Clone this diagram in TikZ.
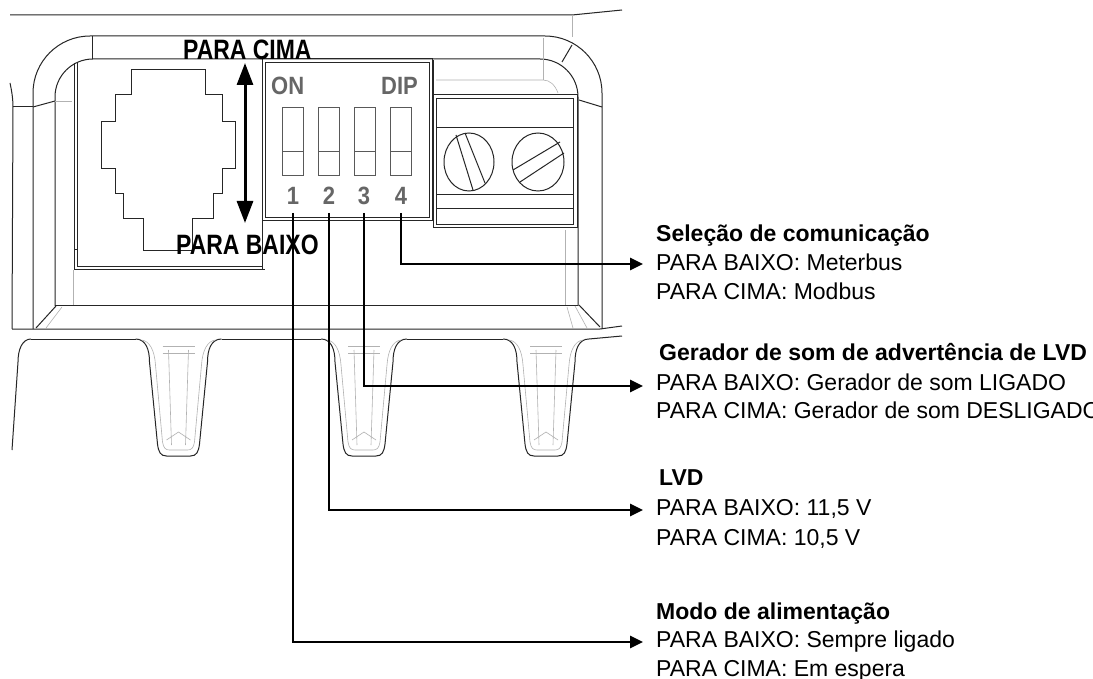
\documentclass[tikz,border=0pt]{standalone}
\usepackage{fontspec}
\setmainfont{Liberation Sans}
\newfontfamily\narrowsans[FakeStretch=0.82]{Liberation Sans}
\newfontfamily\dipsans[FakeStretch=0.88]{Liberation Sans}
\usetikzlibrary{arrows.meta}
\begin{document}
\begin{tikzpicture}[x=1pt,y=-1pt,
  hw/.style={draw=black!85, line width=1pt},
  hwg/.style={draw=black!30, line width=0.6pt},
  slot/.style={draw=black!65, line width=1pt},
  lead/.style={draw=black, line width=2.6pt, line join=miter, -{Triangle[length=13pt,width=12pt]}},
  updown/.style={draw=black, line width=3pt, {Triangle[length=22pt,width=16pt]}-{Triangle[length=22pt,width=16pt]}},
  lbl/.style={anchor=base west, inner sep=0pt, font=\fontsize{23}{27}\selectfont},
  hdr/.style={anchor=base west, inner sep=0pt, font=\fontsize{23}{27}\selectfont\bfseries},
  dirlbl/.style={anchor=base west, inner sep=0pt, font=\narrowsans\bfseries\fontsize{28}{32}\selectfont},
  diplbl/.style={inner sep=0pt, text=black!60, font=\dipsans\bfseries\fontsize{25}{28}\selectfont}
]
\clip (0,0) rectangle (1093,679);
\fill[white] (0,0) rectangle (1093,679);

% ---------- housing frame ----------
\draw[hw] (10,15) -- (572,15) -- (622,10);
\draw[hwg] (572,15) -- (572,37);
\draw[hw, rounded corners=57pt] (33,329) -- (33,36) -- (602,36) -- (602,329);
\draw[hw, rounded corners=38pt] (55,306) -- (55,59) -- (578,59) -- (578,306);
\draw[hw] (55,306) -- (578,306);
% bevels
\draw[hw] (92,36) -- (92,59);
\draw[hw] (562,62) -- (572,45);
\draw[hw] (33,107) -- (55,101);
\draw[hw] (579,100) -- (602,107);
\draw[hw] (56,306) -- (36,328);
\draw[hw] (579,305) -- (600,327);
\draw[hwg] (62,307) -- (46,328);
\draw[hwg] (567,307) -- (573,328);
\draw[hwg] (575,306) -- (587,328);
\draw[hwg] (55,101) -- (72,101);
\draw[hwg] (73,270) -- (73,305);
\draw[hwg] (565,230) -- (565,305);
\draw[hwg] (543,38) -- (543,80);
\draw[hwg] (436,80) -- (543,80) .. controls (550,80) and (555,85) .. (558,93);
% left edge
\draw[hw] (10,83) .. controls (12,92) and (13,100) .. (13,107) -- (12,329);
\draw[hw] (13,107) -- (33,107);

% bottom lines and feet
\draw[hw] (12,329) -- (600,329) -- (622,326);
\draw[hw] (31,339) .. controls (22,339) and (18,350) .. (18,362) -- (12,450);
\draw[hw] (31,339) -- (135.5,339);
\draw[hw] (221.5,339) -- (321,339);
\draw[hw] (407,339) -- (503,339);
\draw[hw] (589,339) -- (622,336);
\foreach \c in {178.5,364,546}{
  \draw[hw] ({\c-43},339) .. controls ({\c-33},339) and ({\c-29},349) .. ({\c-29},362)
    -- ({\c-21},444) .. controls ({\c-20},452) and ({\c-18},456) .. ({\c-12},456)
    -- ({\c+12},456) .. controls ({\c+18},456) and ({\c+20},452) .. ({\c+21},444)
    -- ({\c+29},362) .. controls ({\c+29},349) and ({\c+33},339) .. ({\c+43},339);
  \draw[hwg] ({\c-37},340) .. controls ({\c-29},341) and ({\c-24},350) .. ({\c-23},365)
    -- ({\c-16},442) .. controls ({\c-15},448) and ({\c-13},450) .. ({\c-9},450)
    -- ({\c+9},450) .. controls ({\c+13},450) and ({\c+15},448) .. ({\c+16},442)
    -- ({\c+23},365) .. controls ({\c+24},350) and ({\c+29},341) .. ({\c+37},340);
  \draw[hwg] ({\c-10},350) -- ({\c-7},445);
  \draw[hwg] ({\c+10},350) -- ({\c+7},445);
  \draw[hwg] ({\c-16},346) -- ({\c+16},346);
  \draw[hwg] ({\c-16},353) -- ({\c+16},353);
  \draw[hwg] ({\c-12},440) -- ({\c},432) -- ({\c+12},440);
}

% ---------- RJ jack ----------
\draw[hw] (77,63) -- (77,267) -- (262,267);
\draw[hw] (74,63) -- (74,270) -- (265,270);
\draw[hw] (74,250) -- (77,250);
\draw[hw] (131.7,70) -- (205,70) -- (205,95) -- (222.7,95) -- (222.7,121.7) -- (235,121.7)
  -- (235,168.3) -- (222.7,168.3) -- (222.7,193.3) -- (213.3,193.3) -- (213.3,218.3)
  -- (192.7,218.3) -- (192.7,250.7) -- (143.3,250.7) -- (143.3,218.3) -- (123.3,218.3)
  -- (123.3,193.3) -- (115,193.3) -- (115,168.3) -- (101.7,168.3) -- (101.7,121.7)
  -- (115,121.7) -- (115,95) -- (131.7,95) -- cycle;

% ---------- DIP switch ----------
\draw[hw] (262,59) rectangle (432,221);
\draw[hw] (265,63) rectangle (429,218);
\draw[hw] (262,221) -- (262,270);
\foreach \x in {282,318,354,390}{
  \draw[slot] (\x,108) rectangle (\x+21,176);
  \draw[slot] (\x,152) -- (\x+21,152);
}
\node[diplbl, anchor=base west] (on) at (271,95) {ON};
\node[diplbl, anchor=base west] (dip) at (381,95) {DIP};
\node[diplbl, anchor=base] (n1) at (293,205) {1};
\node[diplbl, anchor=base] (n2) at (329,205) {2};
\node[diplbl, anchor=base] (n3) at (364,205) {3};
\node[diplbl, anchor=base] (n4) at (401,205) {4};

% ---------- terminal block ----------
\draw[hw] (433,60) -- (433,228) -- (577,228) -- (577,95) -- (433,95);
\draw[hw] (436,99) rectangle (573,225);
\foreach \y in {128,195,209}{ \draw[hw] (436,\y) -- (573,\y); }
\draw[hw] (469,162) ellipse [x radius=25pt, y radius=29pt];
\draw[hw] (538,162) ellipse [x radius=26pt, y radius=29pt];
\draw[hw] (456,135) -- (473,190);
\draw[hw] (465,133) -- (485,183);
\draw[hw] (513,170) -- (560,142);
\draw[hw] (520,182) -- (564,153);

% ---------- up/down arrow ----------
\coordinate (up) at (245,63);
\coordinate (down) at (245,223);
\draw[updown] (up) -- (down);
\node[dirlbl] (cima) at (183,60) {PARA CIMA};
\node[dirlbl] (baixo) at (176,255) {PARA BAIXO};

% ---------- leaders ----------
\coordinate (s1) at (293,213);
\coordinate (s2) at (329,213);
\coordinate (s3) at (364,213);
\coordinate (s4) at (401,213);
\coordinate (t1) at (643,264);
\coordinate (t2) at (643,386);
\coordinate (t3) at (643,510);
\coordinate (t4) at (643,642);
\draw[lead] (s4) |- (t1);
\draw[lead] (s3) |- (t2);
\draw[lead] (s2) |- (t3);
\draw[lead] (s1) |- (t4);

% ---------- descriptions ----------
\node[hdr] (h1) at (656,242) {Seleção de comunicação};
\node[lbl] (a1) at (656,271) {PARA BAIXO: Meterbus};
\node[lbl] (b1) at (656,300) {PARA CIMA: Modbus};
\node[hdr] (h2) at (659,360) {Gerador de som de advertência de LVD};
\node[lbl] (a2) at (656,390) {PARA BAIXO: Gerador de som LIGADO};
\node[lbl] (b2) at (656,418) {PARA CIMA: Gerador de som DESLIGADO};
\node[hdr] (h3) at (659,485) {LVD};
\node[lbl] (a3) at (656,515) {PARA BAIXO: 11,5 V};
\node[lbl] (b3) at (656,545) {PARA CIMA: 10,5 V};
\node[hdr] (h4) at (656,619) {Modo de alimentação};
\node[lbl] (a4) at (656,647) {PARA BAIXO: Sempre ligado};
\node[lbl] (b4) at (656,676) {PARA CIMA: Em espera};
\end{tikzpicture}
\end{document}
